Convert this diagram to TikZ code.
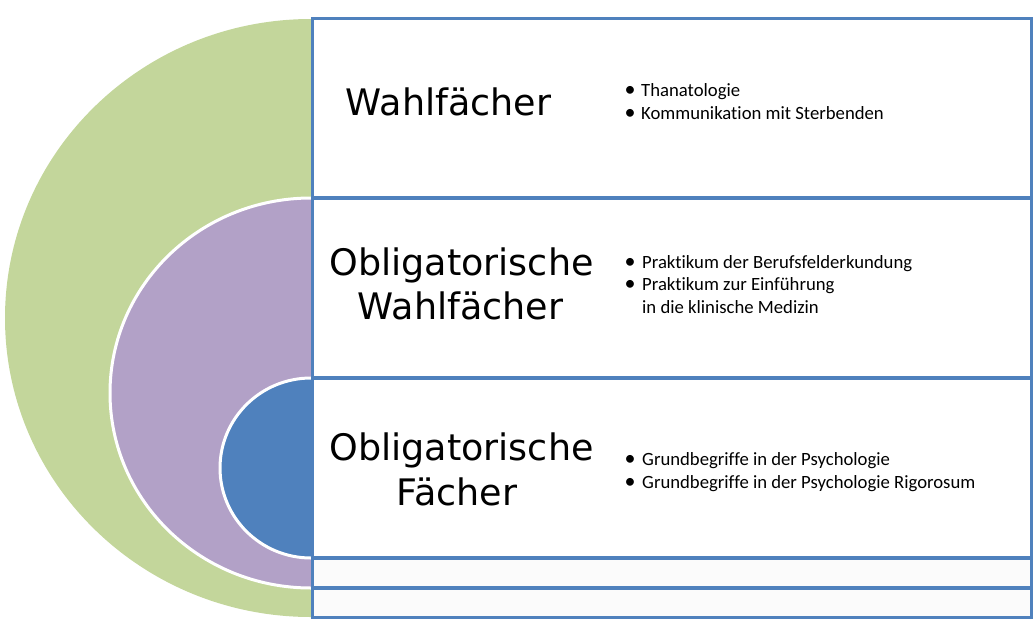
\documentclass[tikz,border=0pt]{standalone}
\usepackage{fontspec}
\setmainfont[Ligatures=NoCommon]{Carlito}
\newfontfamily\titlefont{DejaVu Sans}
\definecolor{greenband}{HTML}{C3D69B}
\definecolor{purpleband}{HTML}{B2A1C7}
\definecolor{blueband}{HTML}{4F81BD}
\definecolor{rowborder}{HTML}{4F81BD}
\begin{document}
\begin{tikzpicture}[x=1pt,y=-1pt,
  rowbox/.style={draw=rowborder, line width=3.5pt, fill=white, rectangle, inner sep=0pt, outer sep=0pt, minimum width=719pt},
  lowbox/.style={rowbox, fill=black!1.5},
  titletext/.style={anchor=base, inner sep=0pt, font=\titlefont\fontsize{36.5}{44}\selectfont},
  itemtext/.style={anchor=base west, inner sep=0pt, font=\fontsize{18.7}{23}\selectfont},
  bullettext/.style={anchor=base, inner sep=0pt, font=\fontsize{22}{23}\selectfont},
  ringedge/.style={draw=white, line width=3pt}]
\useasboundingbox (0,0) rectangle (1035,621);

% nested half ellipses
\fill[greenband] (311,19) arc[start angle=270, end angle=90, x radius=306, y radius=299] -- cycle;
\fill[purpleband] (311,198) arc[start angle=270, end angle=90, x radius=201, y radius=195] -- cycle;
\draw[ringedge] (311,198) arc[start angle=270, end angle=90, x radius=201, y radius=195];
\fill[blueband] (311,378) arc[start angle=270, end angle=90, x radius=91, y radius=90] -- cycle;
\draw[ringedge] (311,378) arc[start angle=270, end angle=90, x radius=91, y radius=90];

% rows
\node[rowbox, minimum height=179.5pt] (row1) at (672,108.25) {};
\node[rowbox, minimum height=180pt] (row2) at (672,288) {};
\node[rowbox, minimum height=180pt] (row3) at (672,468) {};
\node[lowbox, minimum height=30pt] (row4) at (672,573) {};
\node[lowbox, minimum height=29.5pt] (row5) at (672,602.75) {};

% titles
\node[titletext] (t1) at (448.5,115) {Wahlfächer};
\node[titletext] (t2a) at (461.5,275) {Obligatorische};
\node[titletext] (t2b) at (460.5,319) {Wahlfächer};
\node[titletext] (t3a) at (461.5,460) {Obligatorische};
\node[titletext] (t3b) at (457,505) {Fächer};

% bullet lists
\node[bullettext] (b11) at (630,96) {•};
\node[itemtext] (i11) at (641,96) {Thanatologie};
\node[bullettext] (b12) at (630,119) {•};
\node[itemtext] (i12) at (641,119) {Kommunikation mit Sterbenden};

\node[bullettext] (b21) at (630,268) {•};
\node[itemtext] (i21) at (642,268) {Praktikum der Berufsfelderkundung};
\node[bullettext] (b22) at (630,290.5) {•};
\node[itemtext] (i22) at (642,290.5) {Praktikum zur Einführung};
\node[itemtext] (i23) at (642,313) {in die klinische Medizin};

\node[bullettext] (b31) at (630,465) {•};
\node[itemtext] (i31) at (642,465) {Grundbegriffe in der Psychologie};
\node[bullettext] (b32) at (630,488) {•};
\node[itemtext] (i32) at (642,488) {Grundbegriffe in der Psychologie Rigorosum};
\end{tikzpicture}
\end{document}
